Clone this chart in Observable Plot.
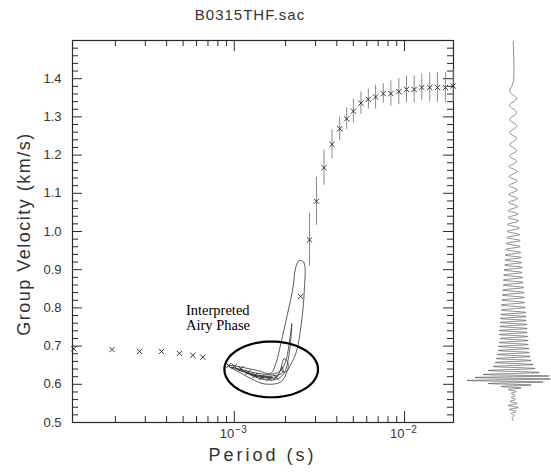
<!DOCTYPE html>
<html>
<head>
<meta charset="utf-8">
<script src="https://cdn.jsdelivr.net/npm/d3@7"></script>
<script src="https://cdn.jsdelivr.net/npm/@observablehq/plot@0.6"></script>
<style>
  html, body { margin: 0; padding: 0; background: #fff; }
  #chart { position: relative; width: 551px; height: 475px; font-family: "Liberation Sans", Arial, sans-serif; color: #333; }
  #chart svg { position: absolute; top: 0; }
  .title { position: absolute; top: 6px; left: 0; width: 500px; text-align: center; font-size: 15px; letter-spacing: 1px; }
  .xlabel { position: absolute; top: 445px; left: 0; width: 525px; text-align: center; font-size: 18px; letter-spacing: 3px; }
  .ylabel { position: absolute; left: 24px; top: 234px; transform: translate(-50%, -50%) rotate(-90deg); white-space: nowrap; font-size: 18px; letter-spacing: 1.5px; }
</style>
</head>
<body>
<div id="chart">
  <div class="title">B0315THF.sac</div>
  <div class="xlabel">Period (s)</div>
  <div class="ylabel">Group Velocity (km/s)</div>
</div>
<script>
// Measured group velocities (km/s) and their half-width uncertainties, by period (s)
const period = [
  1.139e-4, 1.913e-4, 2.777e-4, 3.735e-4, 4.76e-4, 5.705e-4, 6.53e-4, 9.27e-4, 1.0e-3,
  1.095e-3, 1.203e-3, 1.322e-3, 1.453e-3, 1.597e-3, 1.755e-3,
  2.449e-3, 2.766e-3, 3.039e-3, 3.367e-3, 3.751e-3, 4.161e-3, 4.574e-3, 5.006e-3,
  5.546e-3, 6.130e-3, 6.763e-3, 7.504e-3, 8.313e-3, 9.261e-3, 1.027e-2, 1.140e-2,
  1.263e-2, 1.407e-2, 1.561e-2, 1.739e-2, 1.929e-2
];
const velocity = [
  0.693, 0.691, 0.686, 0.686, 0.681, 0.676, 0.671, 0.649, 0.647,
  0.641, 0.631, 0.623, 0.618, 0.615, 0.618,
  0.830, 0.978, 1.079, 1.167, 1.228, 1.269, 1.295, 1.315,
  1.336, 1.346, 1.352, 1.361, 1.361, 1.366, 1.372, 1.372,
  1.377, 1.377, 1.377, 1.377, 1.381
];
const velocityErr = [
  0, 0, 0, 0, 0, 0, 0, 0, 0,
  0, 0, 0, 0, 0, 0,
  0, 0.070, 0.063, 0.046, 0.038, 0.031, 0.029, 0.031,
  0.029, 0.026, 0.031, 0.026, 0.033, 0.034, 0.035, 0.035,
  0.035, 0.038, 0.039, 0.039, 0.042
];

// Energy contours of the period–velocity diagram: [period (ms), velocity (km/s)]
const contourOuter = [[2.403,0.924],[2.561,0.919],[2.578,0.846],[2.459,0.749],[2.299,0.681],[2.055,0.636],[1.877,0.606],[1.499,0.601],[1.253,0.615],[1.065,0.632],[0.915,0.649],[1.095,0.645],[1.371,0.636],[1.641,0.629],[1.755,0.655],[1.877,0.707],[2.055,0.785],[2.199,0.846],[2.299,0.907]];
const contourMiddle = [[0.956,0.645],[1.171,0.630],[1.434,0.614],[1.755,0.613],[1.955,0.628],[2.092,0.675],[2.178,0.759],[2.120,0.720],[2.009,0.662],[1.852,0.634],[1.597,0.626],[1.287,0.631],[1.095,0.639]];
const contourInner = [[1.037,0.640],[1.253,0.626],[1.513,0.617],[1.779,0.619],[1.903,0.647],[1.929,0.631],[1.731,0.623],[1.473,0.622],[1.219,0.630]];
const contourCore = [[1.253,0.624],[1.473,0.618],[1.686,0.618],[1.554,0.620],[1.322,0.623]];
const contourSide = [[1.903,0.634],[1.955,0.667],[2.064,0.657],[2.036,0.634]];

// Annotation: ellipse around the Airy phase (centre period ms, centre velocity, half-widths)
const airyLabel = "Interpreted\nAiry Phase";
const airyCentre = {periodMs: 1.647, velocity: 0.639, halfDecades: 0.275, halfVelocity: 0.073};
const airyLabelAt = {periodMs: 0.52, velocity: 0.808};

// Seismogram turning points: arrival time (s) and amplitude (counts)
const traceTime = [
  0.07, 4.2, 5.1, 5.8, 6.5, 7.2, 7.9, 8.55, 9.2, 9.8, 10.4, 11.0, 11.55, 12.1, 12.6, 13.1,
  13.6, 14.05, 14.5, 14.95, 15.4, 15.8, 16.2, 16.6, 17.0, 17.35, 17.7, 18.05, 18.4, 18.75,
  19.1, 19.4, 19.7, 20.0, 20.3, 20.6, 20.9, 21.2, 21.45, 21.7, 21.95, 22.2, 22.45, 22.7,
  22.95, 23.2, 23.45, 23.7, 23.95, 24.2, 24.45, 24.7, 24.95, 25.2, 25.45, 25.7, 25.95,
  26.2, 26.45, 26.7, 26.95, 27.2, 27.4, 27.6, 27.8, 28.0, 28.2, 28.4, 28.6, 28.8, 29.0,
  29.2, 29.4, 29.6, 29.8, 30.0, 30.2, 30.4, 30.6, 30.8, 31.0, 31.2, 31.4, 31.6, 31.8,
  32.0, 32.2, 32.4, 32.6, 32.8, 33.0, 33.2, 33.4, 33.55, 33.7, 33.85, 34.0, 34.15, 34.3,
  34.45, 34.6, 34.75, 34.9, 35.1, 35.3, 35.5, 35.7, 35.9, 36.1, 36.3, 36.5, 36.7, 36.9,
  37.1, 37.3, 37.5, 37.7, 38.0
];
const traceAmp = [
  0, 0, -3.5, 3.5, -3.5, 3.5, -3.5, 3.5, -3.5, 3.5, -3.5, 3.5, -3.5, 3.5, -4, 4,
  -4, 4, -4, 4, -4.5, 4.5, -4.5, 4.5, -5, 5, -5, 5.5, -5.5, 6,
  -6, 6.5, -6.5, 7, -7, 7, -7.5, 7.5, -8, 8, -8, 8.5, -8.5, 9,
  -9, 9, -9.5, 9.5, -10, 10, -10, 10.5, -10.5, 11, -11, 11, -11.5,
  11.5, -12, 12, -12, 12.5, -12.5, 13, -13, 13, -13, 13.5, -13.5, 14, -14,
  14, -14, 14.5, -13, 15, -14, 15, -15, 16, -15, 16, -16, 17, -17,
  18, -18, 20, -20, 22, -25, 26, -30, 36, -38, 37, -46, 30, -25,
  18, -12, 8, -5, 3, -2, 2, -2, 2, -3, 4, -5, 5, -4,
  3, -2, 1, -1, 0
];

// Axis ticks
const xLabelTicks = [1e-3, 1e-2];
const xMinorTicks = [2e-4,3e-4,4e-4,5e-4,6e-4,7e-4,8e-4,9e-4,2e-3,3e-3,4e-3,5e-3,6e-3,7e-3,8e-3,9e-3];
const yLabelTicks = [0.5, 0.6, 0.7, 0.8, 0.9, 1.0, 1.1, 1.2, 1.3, 1.4];
const yMajorTicks = [0.6, 0.7, 0.8, 0.9, 1.0, 1.1, 1.2, 1.3, 1.4];
const yMinorTicks = d3.range(0.52, 1.5, 0.02).map(v => +v.toFixed(2)).filter(v => Math.abs(v * 10 - Math.round(v * 10)) > 1e-6);

const exponent = d => String(Math.round(Math.log10(d))).replace("-", "\u2212");

const points = period.map((p, i) => ({period: p, v: velocity[i], e: velocityErr[i]}));
const contourRows = [contourOuter, contourMiddle, contourInner, contourCore, contourSide]
  .flatMap((c, id) => c.map(([ms, v]) => ({id, period: ms * 1e-3, v})));

// Ellipse outline in log-period / velocity space
const ellipse = d3.range(0, 360, 4).map(a => {
  const t = a * Math.PI / 180;
  return {
    period: Math.pow(10, Math.log10(airyCentre.periodMs * 1e-3) + airyCentre.halfDecades * Math.cos(t)),
    v: airyCentre.velocity + airyCentre.halfVelocity * Math.sin(t)
  };
});

const W = 470, H = 475, mL = 72, mR = 17, mT = 40, mB = 53;
const fw = W - mL - mR, fh = H - mT - mB;
const ink = "#2a2a2a";

const main = Plot.plot({
  width: W, height: H,
  marginLeft: mL, marginRight: mR, marginTop: mT, marginBottom: mB,
  x: {type: "log", domain: [1.12e-4, 1.94e-2], axis: null},
  y: {domain: [0.5, 1.5]},
  style: {background: "transparent", fontFamily: "Liberation Sans, Arial, sans-serif", color: "#333", overflow: "visible"},
  marks: [
    // inward ticks on all four sides
    Plot.tickX(xMinorTicks, {x: d => d, insetTop: fh - 6, stroke: ink}),
    Plot.tickX(xLabelTicks, {x: d => d, insetTop: fh - 11, stroke: ink}),
    Plot.tickX(xMinorTicks, {x: d => d, insetBottom: fh - 6, stroke: ink}),
    Plot.tickX(xLabelTicks, {x: d => d, insetBottom: fh - 11, stroke: ink}),
    Plot.tickY(yMinorTicks, {y: d => d, insetRight: fw - 6, stroke: ink}),
    Plot.tickY(yMajorTicks, {y: d => d, insetRight: fw - 10, stroke: ink}),
    Plot.tickY(yMinorTicks, {y: d => d, insetLeft: fw - 6, stroke: ink}),
    Plot.tickY(yMajorTicks, {y: d => d, insetLeft: fw - 10, stroke: ink}),
    // decade labels: base "10" left of the tick, exponent raised to its right
    Plot.text(xLabelTicks, {x: d => d, frameAnchor: "bottom", dy: 15, text: () => "10", textAnchor: "end", fontSize: 13, fill: "#333"}),
    Plot.text(xLabelTicks, {x: d => d, frameAnchor: "bottom", dy: 10, dx: 1, text: exponent, textAnchor: "start", fontSize: 10, fill: "#333"}),
    Plot.axisY(yLabelTicks, {tickSize: 0, tickPadding: 11, tickFormat: d3.format(".1f"), fontSize: 13, label: null, fill: "#333"}),
    Plot.frame({stroke: ink, strokeWidth: 1.2}),
    // contours
    Plot.line(contourRows, {x: "period", y: "v", z: "id", curve: "catmull-rom-closed", stroke: "#333", strokeWidth: 0.8}),
    // uncertainties and picks
    Plot.ruleX(points.filter(d => d.e > 0), {x: "period", y1: d => d.v - d.e, y2: d => d.v + d.e, stroke: "#8a8a8a", strokeWidth: 1}),
    Plot.dot(points, {x: "period", y: "v", symbol: "times", r: 2.5, stroke: "#222", strokeWidth: 0.9}),
    // annotation
    Plot.line(ellipse, {x: "period", y: "v", curve: "linear-closed", stroke: "#000", strokeWidth: 2.2}),
    Plot.text([airyLabel], {x: airyLabelAt.periodMs * 1e-3, y: airyLabelAt.velocity, text: d => d, textAnchor: "start", lineAnchor: "top", lineHeight: 1.02, fontSize: 14.5, fontFamily: "Liberation Serif, Times New Roman, serif", fill: "#000"})
  ]
});
main.style.left = "0px";
document.getElementById("chart").appendChild(main);

// Seismogram drawn beside the dispersion diagram
const traceRows = traceTime.map((t, i) => ({t, a: traceAmp[i]}));
const trace = Plot.plot({
  width: 91, height: H,
  marginLeft: 0, marginRight: 0, marginTop: mT, marginBottom: mB,
  x: {domain: [-52.7, 38.3], axis: null},
  y: {domain: [0, 38.2], reverse: true, axis: null},
  style: {background: "transparent", overflow: "visible"},
  marks: [
    Plot.line(traceRows, {x: "a", y: "t", curve: "catmull-rom", stroke: "#333", strokeWidth: 0.55})
  ]
});
trace.style.left = "460px";
document.getElementById("chart").appendChild(trace);
</script>
</body>
</html>
